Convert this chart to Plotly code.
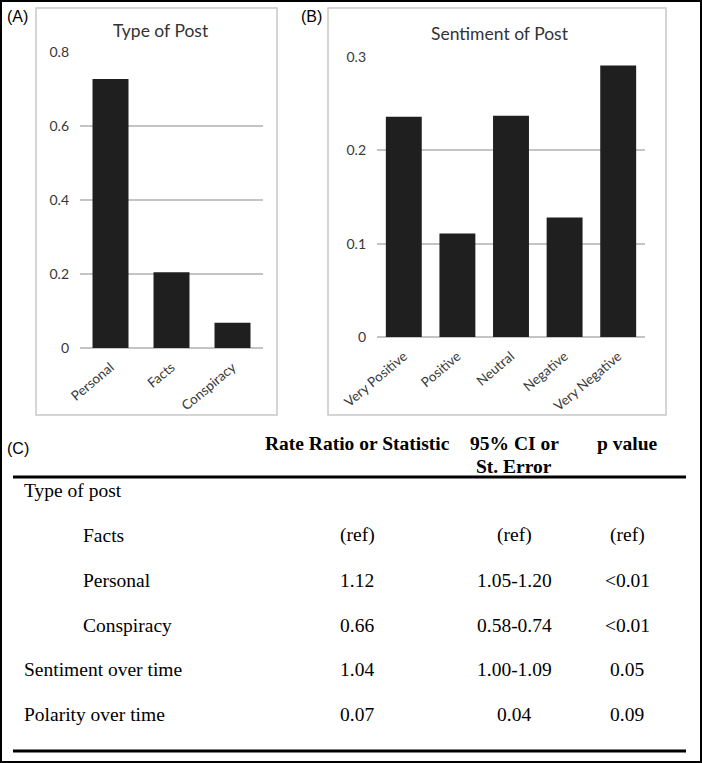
import plotly.graph_objects as go

# ---------------- data ----------------
type_categories = ["Personal", "Facts", "Conspiracy"]
type_values = [0.727, 0.205, 0.068]

sentiment_categories = ["Very Positive", "Positive", "Neutral", "Negative", "Very Negative"]
sentiment_values = [0.236, 0.111, 0.237, 0.128, 0.291]

table_header_1 = ["Rate Ratio or Statistic", "95% CI or", "p value"]
table_header_2 = ["", "St. Error", ""]
row_labels = ["Type of post", "Facts", "Personal", "Conspiracy", "Sentiment over time", "Polarity over time"]
row_indent = [False, True, True, True, False, False]
col_rate = ["", "(ref)", "1.12", "0.66", "1.04", "0.07"]
col_ci = ["", "(ref)", "1.05-1.20", "0.58-0.74", "1.00-1.09", "0.04"]
col_p = ["", "(ref)", "<0.01", "<0.01", "0.05", "0.09"]

# ---------------- layout helpers ----------------
W, H = 702, 763
def px(x):
    return x / W
def py(y):
    return 1 - y / H

BAR = "#1f1f1f"
GRID = "#c4c4c4"
TXT = "#383838"
CHART_FONT = "Lato"
SERIF = "Liberation Serif"

fig = go.Figure()
fig.add_trace(go.Bar(x=type_categories, y=type_values, marker_color=BAR,
                     marker_line_width=0, width=0.59, xaxis="x", yaxis="y",
                     showlegend=False))
fig.add_trace(go.Bar(x=sentiment_categories, y=sentiment_values, marker_color=BAR,
                     marker_line_width=0, width=0.67, xaxis="x2", yaxis="y2",
                     showlegend=False))

axis_common_x = dict(showgrid=False, showline=False, zeroline=False, ticks="",
                     tickangle=-40, tickfont=dict(family=CHART_FONT, size=13.5, color=TXT),
                     ticklabelstandoff=8, automargin=False, fixedrange=True)
axis_common_y = dict(showgrid=True, gridcolor=GRID, gridwidth=1.5, zeroline=True,
                     zerolinecolor=GRID, zerolinewidth=1.5, showline=False, ticks="",
                     tickfont=dict(family=CHART_FONT, size=14, color=TXT),
                     ticklabelstandoff=10, automargin=False, fixedrange=True)

fig.update_layout(
    width=W, height=H, autosize=False,
    margin=dict(l=0, r=0, t=0, b=0, pad=0, autoexpand=False),
    paper_bgcolor="white", plot_bgcolor="white",
    xaxis=dict(domain=[px(80), px(263)], range=[-0.5, 2.5], anchor="y", **axis_common_x),
    yaxis=dict(domain=[py(348), py(52)], range=[0, 0.8], dtick=0.2, anchor="x", **axis_common_y),
    xaxis2=dict(domain=[px(377), px(645)], range=[-0.5, 4.5], anchor="y2", **axis_common_x),
    yaxis2=dict(domain=[py(337), py(57)], range=[0, 0.3], dtick=0.1, anchor="x2", **axis_common_y),
)

shapes = []
# outer border
shapes.append(dict(type="rect", xref="paper", yref="paper", x0=px(1), x1=px(701), y0=py(762), y1=py(1),
                   line=dict(color="black", width=2)))
# panel boxes
shapes.append(dict(type="rect", xref="paper", yref="paper", x0=px(36), x1=px(277), y0=py(415), y1=py(8),
                   line=dict(color="#c8c8c8", width=1.5)))
shapes.append(dict(type="rect", xref="paper", yref="paper", x0=px(328), x1=px(666), y0=py(415), y1=py(8),
                   line=dict(color="#c8c8c8", width=1.5)))
# table rules
shapes.append(dict(type="line", xref="paper", yref="paper", x0=px(13), x1=px(686), y0=py(477), y1=py(477),
                   line=dict(color="black", width=3)))
shapes.append(dict(type="line", xref="paper", yref="paper", x0=px(13), x1=px(686), y0=py(751), y1=py(751),
                   line=dict(color="black", width=3)))

ann = []
def text(x, y, s, size, family, color="black", xanchor="center", bold=False):
    if bold:
        s = "<b>" + s + "</b>"
    ann.append(dict(x=px(x), y=py(y), xref="paper", yref="paper", text=s, showarrow=False,
                    xanchor=xanchor, yanchor="middle",
                    font=dict(size=size, family=family, color=color)))

# panel labels
text(5, 16, "(A)", 16, "Liberation Sans", xanchor="left")
text(299, 16, "(B)", 16, "Liberation Sans", xanchor="left")
text(5, 448, "(C)", 16, "Liberation Sans", xanchor="left")
# chart titles
text(161, 31, "Type of Post", 17.5, CHART_FONT, color="#333333")
text(500, 33, "Sentiment of Post", 17.5, CHART_FONT, color="#333333")

# table header
col_x = [357, 514, 627]
for cx, h1, h2 in zip(col_x, table_header_1, table_header_2):
    text(cx, 443, h1, 19.5, SERIF, bold=True)
    if h2:
        text(cx, 466, h2, 19.5, SERIF, bold=True)

# table rows
row_y = [491, 535, 580, 625, 669, 714]
for ry, lab, ind, a, b, c in zip(row_y, row_labels, row_indent, col_rate, col_ci, col_p):
    text(81 if ind else 22, ry, lab, 19.5, SERIF, xanchor="left")
    for cx, v in zip(col_x, [a, b, c]):
        if v:
            text(cx, ry, v, 19.5, SERIF)

fig.update_layout(shapes=shapes, annotations=ann)
fig.write_html("out.html", config={"responsive": False, "displayModeBar": False},
               post_script="document.body.style.margin='0';document.body.style.padding='0';")
